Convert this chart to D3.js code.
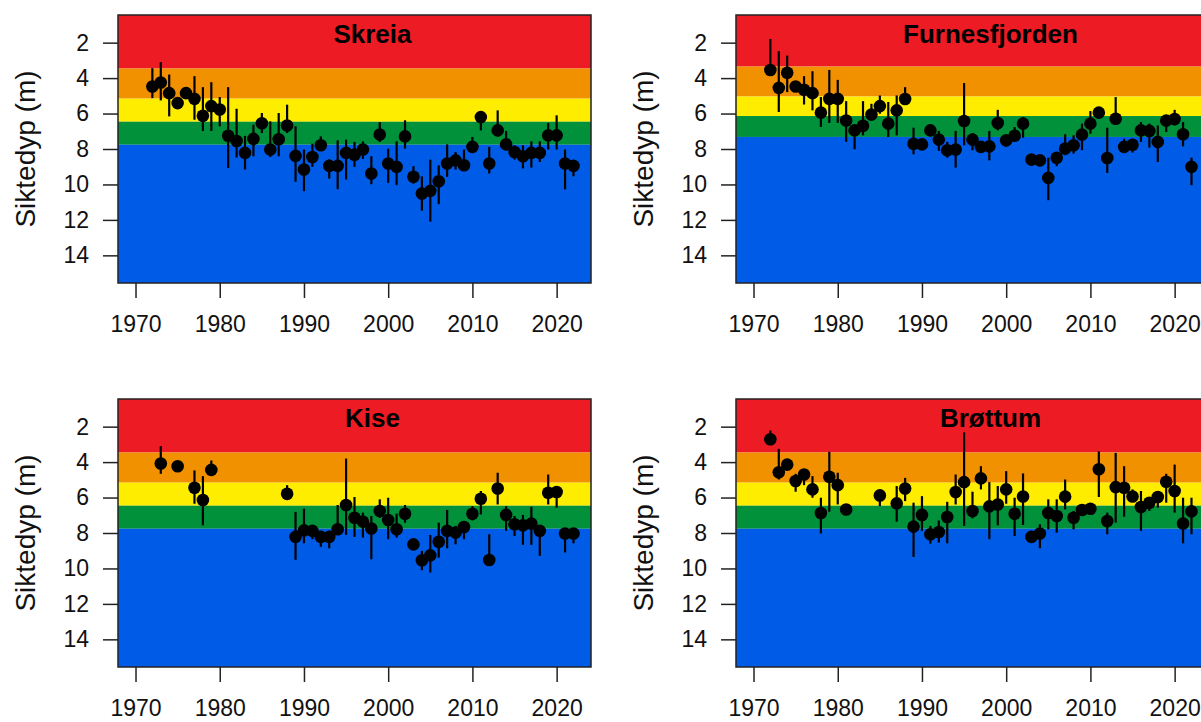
<!DOCTYPE html>
<html>
<head>
<meta charset="utf-8">
<script src="https://cdn.jsdelivr.net/npm/d3@7"></script>
<style>
  html, body { margin: 0; padding: 0; background: #ffffff; overflow: hidden; }
  svg { display: block; font-family: "Liberation Sans", Arial, sans-serif; }
</style>
</head>
<body>
<svg id="chart" width="1201" height="722"></svg>
<script>
// Secchi depth (m) per year: mean with min/max range, four lakes.
const yearTicks = [1970, 1980, 1990, 2000, 2010, 2020];
const depthTicks = [2, 4, 6, 8, 10, 12, 14];
const classColors = ["#ED1C24", "#F29100", "#FFED00", "#00913A", "#005CE6"];

// --- Skreia ---
const skreiaYear = [1972,1973,1974,1975,1976,1977,1978,1979,1980,1981,1982,1983,1984,1985,1986,1987,1988,1989,1990,1991,1992,1993,1994,1995,1996,1997,1998,1999,2000,2001,2002,2003,2004,2005,2006,2007,2008,2009,2010,2011,2012,2013,2014,2015,2016,2017,2018,2019,2020,2021,2022];
const skreiaMean = [4.47,4.25,4.85,5.41,4.85,5.17,6.12,5.58,5.77,7.25,7.55,8.22,7.43,6.55,8.03,7.45,6.67,8.39,9.16,8.45,7.79,8.95,8.95,8.22,8.32,8.03,9.38,7.19,8.82,9.01,7.29,9.57,10.51,10.36,9.82,8.82,8.64,8.92,7.88,6.20,8.82,6.95,7.74,8.17,8.41,8.22,8.22,7.23,7.23,8.82,8.95];
const skreiaLow  = [3.44,3.10,3.80,5.41,4.60,3.89,4.51,4.23,5.07,4.51,5.73,7.26,6.63,5.97,6.44,5.97,5.50,6.72,8.03,7.70,7.29,8.58,7.51,7.47,7.60,7.57,8.41,6.48,7.98,7.57,6.38,8.97,9.54,8.60,8.92,7.74,8.17,8.03,7.32,5.91,7.88,5.82,6.98,7.79,7.79,7.57,7.57,6.53,6.10,8.03,8.64];
const skreiaHigh = [5.13,5.26,6.16,5.41,4.95,6.35,6.98,6.98,6.72,9.07,8.48,9.16,8.41,7.10,8.45,8.41,7.10,9.85,10.38,9.01,8.11,9.67,10.27,9.72,9.01,8.56,9.99,7.60,9.91,10.04,7.98,9.95,11.48,12.10,11.11,9.57,9.16,9.23,8.22,6.95,9.38,7.29,8.07,8.60,9.10,9.05,8.73,8.03,8.03,10.28,9.54];
const skreiaLimits = [3.46, 5.16, 6.46, 7.76];

// --- Furnesfjorden ---
const furnesYear = [1972,1973,1974,1975,1976,1977,1978,1979,1980,1981,1982,1983,1984,1985,1986,1987,1988,1989,1990,1991,1992,1993,1994,1995,1996,1997,1998,1999,2000,2001,2002,2003,2004,2005,2006,2007,2008,2009,2010,2011,2012,2013,2014,2015,2016,2017,2018,2019,2020,2021,2022];
const furnesMean = [3.54,4.55,3.70,4.47,4.66,4.85,5.95,5.17,5.17,6.39,6.95,6.69,6.05,5.58,6.57,5.82,5.18,7.70,7.74,6.95,7.47,8.07,8.03,6.42,7.47,7.88,7.85,6.53,7.51,7.25,6.57,8.60,8.64,9.63,8.49,7.98,7.79,7.19,6.57,5.95,8.51,6.29,7.88,7.76,6.95,6.98,7.60,6.40,6.31,7.17,9.01];
const furnesLow  = [1.79,2.48,2.73,4.47,3.89,3.61,5.07,3.54,4.10,5.30,6.70,5.30,5.45,4.98,5.35,4.98,4.51,6.80,7.74,6.61,6.98,7.60,6.98,4.28,7.10,7.70,6.98,5.79,7.23,6.76,6.20,8.60,8.64,8.49,8.17,7.17,7.23,6.57,5.86,5.95,6.80,5.07,7.42,7.42,6.48,6.57,6.67,6.10,5.79,6.48,8.49];
const furnesHigh = [3.85,5.91,4.79,4.47,5.49,5.82,6.76,6.53,6.53,7.60,8.02,7.23,6.39,6.01,7.32,7.23,5.49,8.30,7.74,7.29,8.11,8.49,9.05,7.79,8.07,8.00,8.64,6.95,7.88,7.42,7.36,8.60,8.64,10.89,8.97,8.35,8.26,8.07,7.14,5.95,9.35,6.61,8.17,8.20,7.60,7.92,8.73,7.04,6.67,7.85,10.04];
const furnesLimits = [3.35, 5.04, 6.14, 7.32];

// --- Kise ---
const kiseYear = [1973,1975,1977,1978,1979,1988,1989,1990,1991,1992,1993,1994,1995,1996,1997,1998,1999,2000,2001,2002,2003,2004,2005,2006,2007,2008,2009,2010,2011,2012,2013,2014,2015,2016,2017,2018,2019,2020,2021,2022];
const kiseMean = [4.08,4.23,5.45,6.14,4.44,5.79,8.22,7.85,7.88,8.22,8.22,7.79,6.42,7.14,7.36,7.75,6.76,7.27,7.79,6.91,8.64,9.54,9.26,8.49,7.88,7.98,7.66,6.91,6.07,9.52,5.49,6.98,7.51,7.57,7.47,7.88,5.73,5.69,8.03,8.03];
const kiseLow  = [3.10,4.23,4.47,4.79,3.91,5.30,6.81,6.63,7.60,7.88,7.88,6.42,3.80,5.97,6.85,7.04,6.10,6.01,6.91,6.42,8.45,9.01,8.11,7.42,6.70,7.60,7.32,6.48,5.63,8.07,4.60,6.48,7.04,6.98,6.52,7.60,4.70,5.35,7.79,7.79];
const kiseHigh = [4.66,4.23,6.35,7.57,4.70,6.01,9.51,8.58,8.35,8.78,8.86,8.07,8.11,8.22,8.26,9.48,7.14,8.35,8.26,7.42,8.64,10.10,10.23,9.39,8.86,8.64,8.35,7.29,6.95,9.85,6.39,7.88,8.17,8.67,8.67,9.29,6.39,6.57,9.10,8.58];
const kiseLimits = [3.46, 5.16, 6.46, 7.76];

// --- Brøttum ---
const brottumYear = [1972,1973,1974,1975,1976,1977,1978,1979,1980,1981,1985,1987,1988,1989,1990,1991,1992,1993,1994,1995,1996,1997,1998,1999,2000,2001,2002,2003,2004,2005,2006,2007,2008,2009,2010,2011,2012,2013,2014,2015,2016,2017,2018,2019,2020,2021,2022];
const brottumMean = [2.71,4.57,4.14,5.07,4.70,5.54,6.87,4.83,5.30,6.67,5.88,6.33,5.49,7.64,6.98,8.07,7.94,7.10,5.69,5.13,6.76,4.92,6.50,6.39,5.54,6.91,5.94,8.22,8.03,6.87,7.04,5.95,7.14,6.70,6.63,4.40,7.32,5.41,5.45,5.94,6.53,6.29,5.97,5.11,5.63,7.46,6.78];
const brottumLow  = [2.22,3.25,3.95,4.66,4.42,4.79,6.01,3.42,4.60,6.67,5.54,5.35,4.89,6.29,5.92,7.60,7.29,6.24,4.70,2.32,5.67,4.23,5.13,5.35,4.51,6.01,4.64,8.22,7.51,6.10,6.10,4.98,6.76,6.50,6.40,3.39,6.85,3.48,4.23,5.54,5.63,5.97,5.63,4.66,4.14,6.01,6.01];
const brottumHigh = [2.82,4.98,4.30,5.67,5.30,6.01,8.03,6.80,6.39,6.67,6.48,7.36,6.20,9.35,7.88,8.60,8.54,8.58,6.39,7.60,7.17,5.54,8.35,7.57,6.35,8.17,7.55,8.22,8.86,7.79,7.98,6.67,7.79,6.90,6.85,5.97,8.07,7.42,7.08,6.20,7.88,6.76,6.57,6.29,6.85,8.58,8.07];
const brottumLimits = [3.46, 5.16, 6.46, 7.76];

const panels = [
  { name: "Skreia",        year: skreiaYear,  mean: skreiaMean,  low: skreiaLow,  high: skreiaHigh,  limits: skreiaLimits,  col: 0, row: 0 },
  { name: "Furnesfjorden", year: furnesYear,  mean: furnesMean,  low: furnesLow,  high: furnesHigh,  limits: furnesLimits,  col: 1, row: 0 },
  { name: "Kise",          year: kiseYear,    mean: kiseMean,    low: kiseLow,    high: kiseHigh,    limits: kiseLimits,    col: 0, row: 1 },
  { name: "Brøttum",       year: brottumYear, mean: brottumMean, low: brottumLow, high: brottumHigh, limits: brottumLimits, col: 1, row: 1 }
];

// Plot frame geometry (each panel)
const plotW = 473, plotH = 268;
const colX = [118, 736], rowY = [15, 399];

// R-style 4% padding around the axis ranges
function padded(lo, hi) { const d = (hi - lo) * 0.04; return [lo - d, hi + d]; }
const xDom = padded(1970, 2022);
const yDom = padded(1, 15);

const svg = d3.select("#chart");

panels.forEach(p => {
  const g = svg.append("g").attr("transform", `translate(${colX[p.col]},${rowY[p.row]})`);
  const x = d3.scaleLinear().domain(xDom).range([0, plotW]);
  const y = d3.scaleLinear().domain(yDom).range([0, plotH]);   // depth grows downward

  // water-quality class bands
  const edges = [yDom[0], ...p.limits, yDom[1]];
  g.selectAll("rect.band").data(classColors).join("rect")
    .attr("class", "band")
    .attr("x", 0).attr("width", plotW)
    .attr("y", (c, i) => y(edges[i]))
    .attr("height", (c, i) => y(edges[i + 1]) - y(edges[i]))
    .attr("fill", c => c);

  // y axis
  const yAxis = d3.axisLeft(y).tickValues(depthTicks).tickSize(15).tickPadding(14).tickFormat(d3.format("d"));
  const ya = g.append("g").call(yAxis);
  ya.select(".domain").remove();
  ya.selectAll(".tick line").attr("stroke", "#222").attr("stroke-width", 1.5);
  ya.selectAll(".tick text").attr("font-size", 23).attr("fill", "#111")
    .attr("font-family", "Liberation Sans, Arial, sans-serif");

  // x axis
  const xAxis = d3.axisBottom(x).tickValues(yearTicks).tickSize(15).tickPadding(18).tickFormat(d3.format("d"));
  const xa = g.append("g").attr("transform", `translate(0,${plotH})`).call(xAxis);
  xa.select(".domain").remove();
  xa.selectAll(".tick line").attr("stroke", "#222").attr("stroke-width", 1.5);
  xa.selectAll(".tick text").attr("font-size", 23).attr("fill", "#111")
    .attr("font-family", "Liberation Sans, Arial, sans-serif");

  // axis title
  g.append("text")
    .attr("transform", `translate(${35 - colX[0]},${plotH / 2}) rotate(-90)`)
    .attr("text-anchor", "middle")
    .attr("font-size", 28).attr("fill", "#111")
    .text("Siktedyp (m)");

  // range bars
  const idx = d3.range(p.year.length);
  g.selectAll("line.range").data(idx).join("line")
    .attr("class", "range")
    .attr("x1", i => x(p.year[i])).attr("x2", i => x(p.year[i]))
    .attr("y1", i => y(p.low[i])).attr("y2", i => y(p.high[i]))
    .attr("stroke", "#000").attr("stroke-width", 2.2);

  // yearly means
  g.selectAll("circle.mean").data(idx).join("circle")
    .attr("class", "mean")
    .attr("cx", i => x(p.year[i])).attr("cy", i => y(p.mean[i]))
    .attr("r", 6.3).attr("fill", "#000");

  // frame
  g.append("rect").attr("x", 0).attr("y", 0).attr("width", plotW).attr("height", plotH)
    .attr("fill", "none").attr("stroke", "#222").attr("stroke-width", 1.5);

  // lake name
  g.append("text")
    .attr("x", plotW / 2 + 18).attr("y", 27.5)
    .attr("text-anchor", "middle")
    .attr("font-size", 26).attr("font-weight", "bold").attr("fill", "#000")
    .text(p.name);
});
</script>
</body>
</html>
